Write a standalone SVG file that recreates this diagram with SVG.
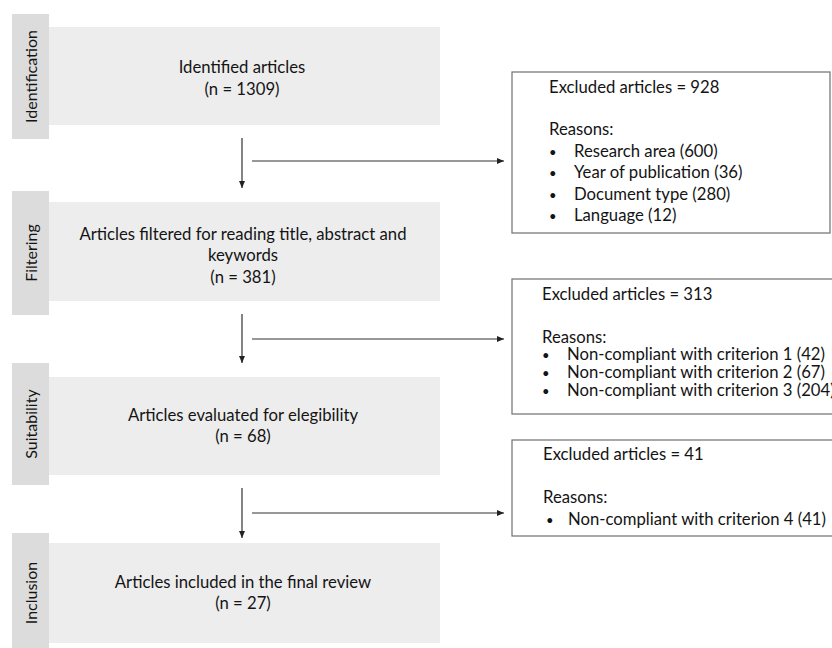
<svg xmlns="http://www.w3.org/2000/svg" width="832" height="648" viewBox="0 0 832 648">
<defs>
<marker id="ah" markerWidth="8" markerHeight="8" refX="7" refY="4" orient="auto" markerUnits="userSpaceOnUse">
<path d="M0,1 L7,4 L0,7 Z" fill="#222"/>
</marker>
<style>
.side{fill:#dcdcdc}
.main{fill:#ededed}
.exc{fill:#fff;stroke:#7a7a7a;stroke-width:1.3}
text{font-family:Lato,"Open Sans","Liberation Sans",sans-serif;font-size:16.7px;fill:#141414}
.s{font-size:16px}
.b{font-size:13px}
.c{text-anchor:middle}
.conn{stroke:#333;stroke-width:1.2;fill:none;marker-end:url(#ah)}
</style>
</defs>
<rect width="832" height="648" fill="#fff"/>
<g id="stage-identification">
<rect class="side" x="12" y="14" width="37" height="125"/>
<text class="c s" transform="translate(37,76.5) rotate(-90)">Identification</text>
</g>
<g id="stage-filtering">
<rect class="side" x="12" y="191" width="37" height="124"/>
<text class="c s" transform="translate(37,253) rotate(-90)">Filtering</text>
</g>
<g id="stage-suitability">
<rect class="side" x="12" y="363" width="37" height="122"/>
<text class="c s" transform="translate(37,424) rotate(-90)">Suitability</text>
</g>
<g id="stage-inclusion">
<rect class="side" x="12" y="533" width="37" height="122"/>
<text class="c s" transform="translate(37,593) rotate(-90)">Inclusion</text>
</g>
<g id="identified">
<rect class="main" x="49" y="27" width="391" height="98"/>
<text class="c" x="242" y="73">Identified articles</text>
<text class="c" x="242" y="95">(n = 1309)</text>
</g>
<g id="filtered">
<rect class="main" x="49" y="202" width="391" height="99"/>
<text class="c" x="243" y="240">Articles filtered for reading title, abstract and</text>
<text class="c" x="243" y="261">keywords</text>
<text class="c" x="243" y="283">(n = 381)</text>
</g>
<g id="evaluated">
<rect class="main" x="49" y="377" width="391" height="98"/>
<text class="c" x="243" y="421">Articles evaluated for elegibility</text>
<text class="c" x="243" y="442">(n = 68)</text>
</g>
<g id="included">
<rect class="main" x="49" y="543" width="391" height="100"/>
<text class="c" x="243" y="588">Articles included in the final review</text>
<text class="c" x="243" y="609">(n = 27)</text>
</g>
<g id="excluded-928">
<rect class="exc" x="512" y="72" width="318" height="161"/>
<text x="549" y="93">Excluded articles = 928</text>
<text x="549" y="135">Reasons:</text>
<text class="b" x="549" y="157">•</text><text x="574" y="157">Research area (600)</text>
<text class="b" x="549" y="178">•</text><text x="574" y="178">Year of publication (36)</text>
<text class="b" x="549" y="200">•</text><text x="574" y="200">Document type (280)</text>
<text class="b" x="549" y="221">•</text><text x="574" y="221">Language (12)</text>
</g>
<g id="excluded-313">
<rect class="exc" x="512" y="279" width="330" height="135"/>
<text x="542" y="300">Excluded articles = 313</text>
<text x="542" y="343">Reasons:</text>
<text class="b" x="542" y="360">•</text><text x="567" y="360">Non-compliant with criterion 1 (42)</text>
<text class="b" x="542" y="378">•</text><text x="567" y="378">Non-compliant with criterion 2 (67)</text>
<text class="b" x="542" y="396">•</text><text x="567" y="396">Non-compliant with criterion 3 (204)</text>
</g>
<g id="excluded-41">
<rect class="exc" x="512" y="440" width="330" height="96"/>
<text x="543" y="460">Excluded articles = 41</text>
<text x="543" y="503">Reasons:</text>
<text class="b" x="546" y="525">•</text><text x="568" y="525">Non-compliant with criterion 4 (41)</text>
</g>
<g id="connectors">
<line class="conn" x1="242" y1="138" x2="242" y2="188"/>
<line class="conn" x1="252" y1="161" x2="504" y2="161"/>
<line class="conn" x1="242" y1="314" x2="242" y2="363"/>
<line class="conn" x1="252" y1="339" x2="504" y2="339"/>
<line class="conn" x1="242" y1="488" x2="242" y2="538"/>
<line class="conn" x1="252" y1="513" x2="504" y2="513"/>
</g>
</svg>
